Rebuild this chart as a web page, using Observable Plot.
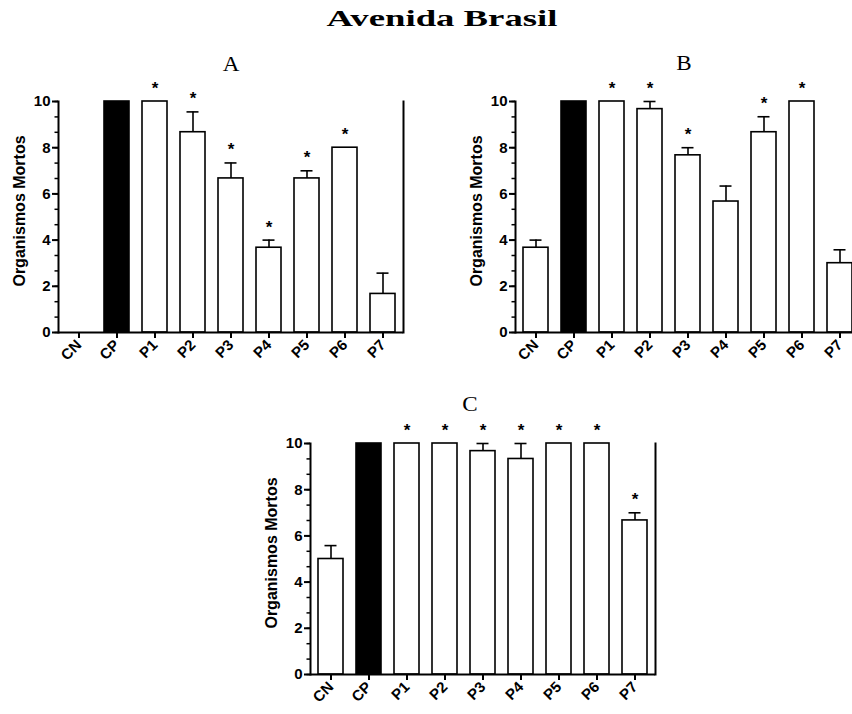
<!DOCTYPE html>
<html>
<head>
<meta charset="utf-8">
<script src="https://cdn.jsdelivr.net/npm/d3@7"></script>
<script src="https://cdn.jsdelivr.net/npm/@observablehq/plot@0.6"></script>
<style>
  html, body { margin: 0; padding: 0; background: #fff; overflow: hidden; }
  #root { position: relative; width: 852px; height: 714px; overflow: hidden; }
  .ttl { position: absolute; font-family: "Liberation Serif", "Times New Roman", serif; color: #000; line-height: 1; white-space: nowrap; }
  .panel { position: absolute; }
  .panel svg { max-width: none !important; }
</style>
</head>
<body>
<div id="root"></div>
<script>
// ---- data ----
const categories = ["CN", "CP", "P1", "P2", "P3", "P4", "P5", "P6", "P7"];
const positiveControl = "CP";

const meanA = [0, 10, 10, 8.67, 6.67, 3.67, 6.67, 8.0, 1.67];
const errA  = [0, 0, 0, 0.88, 0.67, 0.33, 0.33, 0, 0.9];
const starA = [false, false, true, true, true, true, true, true, false];

const meanB = [3.67, 10, 10, 9.67, 7.67, 5.67, 8.67, 10, 3.0];
const errB  = [0.33, 0, 0, 0.33, 0.33, 0.67, 0.67, 0, 0.58];
const starB = [false, false, true, true, true, false, true, true, false];

const meanC = [5.0, 10, 10, 10, 9.67, 9.33, 10, 10, 6.67];
const errC  = [0.58, 0, 0, 0, 0.33, 0.67, 0, 0, 0.33];
const starC = [false, false, true, true, true, true, true, true, true];

const mainTitle = "Avenida Brasil";
const panelTitles = ["A", "B", "C"];
const yLabel = "Organismos Mortos";
const yMajorTicks = [0, 2, 4, 6, 8, 10];
const yMinorTicks = d3.range(0, 10.01, 2 / 3);
const starSymbol = "*";

// ---- build ----
function rows(means, errs, stars) {
  return categories.map((c, i) => ({cat: c, mean: means[i], err: errs[i], hi: means[i] + errs[i], star: stars[i]}));
}

function panel(means, errs, stars) {
  const data = rows(means, errs, stars);
  const errData = data.filter(d => d.err > 0);
  const starData = data.filter(d => d.star);
  return Plot.plot({
    width: 415,
    height: 315,
    marginLeft: 58,
    marginRight: 12,
    marginTop: 30,
    marginBottom: 54,
    style: {fontFamily: "'Liberation Sans', Arial, sans-serif", fontWeight: "bold", color: "#000", background: "transparent"},
    x: {type: "band", domain: categories, paddingInner: 0.33, paddingOuter: 0.185, label: null},
    y: {domain: [0, 10], label: null},
    marks: [
      Plot.barY(data.filter(d => d.cat !== positiveControl), {x: "cat", y: "mean", fill: "white", stroke: "black", strokeWidth: 1.6}),
      Plot.barY(data.filter(d => d.cat === positiveControl), {x: "cat", y: "mean", fill: "black", stroke: "black", strokeWidth: 1.6}),
      Plot.ruleX(errData, {x: "cat", y1: "mean", y2: "hi", stroke: "black", strokeWidth: 1.6}),
      Plot.tickY(errData, {x: "cat", y: "hi", insetLeft: 6.5, insetRight: 6.5, stroke: "black", strokeWidth: 1.6}),
      Plot.text(starData, {x: "cat", y: "hi", text: () => starSymbol, dy: -13, fontSize: 17, fontWeight: "bold", fill: "black"}),
      Plot.ruleY([0], {stroke: "black", strokeWidth: 2}),
      Plot.frame({anchor: "left", stroke: "black", strokeWidth: 2}),
      Plot.frame({anchor: "right", stroke: "black", strokeWidth: 2}),
      Plot.axisY({ticks: yMinorTicks, tickSize: 3.5, text: null, label: null, strokeWidth: 1.5}),
      Plot.axisY({ticks: yMajorTicks, tickSize: 6, tickPadding: 2, fontSize: 15, label: null, strokeWidth: 2}),
      Plot.axisX({tickSize: 6, tickPadding: 4, tickRotate: -45, fontSize: 15, label: null, strokeWidth: 2}),
      Plot.text([yLabel], {frameAnchor: "left", text: d => d, rotate: -90, textAnchor: "middle", dx: -39, dy: -6, fontSize: 16, fontWeight: "bold", fill: "black"})
    ]
  });
}

const root = document.getElementById("root");

function addText(txt, cx, cy, size, weight, sx) {
  const el = document.createElement("div");
  el.className = "ttl";
  el.textContent = txt;
  el.style.left = cx + "px";
  el.style.top = cy + "px";
  el.style.fontSize = size + "px";
  el.style.fontWeight = weight;
  el.style.transform = `translate(-50%, -50%) scaleX(${sx})`;
  root.appendChild(el);
}

function addPanel(svg, left, top) {
  const w = document.createElement("div");
  w.className = "panel";
  w.style.left = left + "px";
  w.style.top = top + "px";
  w.style.width = "415px";
  w.appendChild(svg);
  root.appendChild(w);
}

addPanel(panel(meanA, errA, starA), 0, 71);
addPanel(panel(meanB, errB, starB), 457, 71);
addPanel(panel(meanC, errC, starC), 252, 413);

addText(mainTitle, 442, 18, 24, "bold", 1.53);
addText(panelTitles[0], 231, 64, 21, "normal", 1.1);
addText(panelTitles[1], 684, 63, 21, "normal", 1.1);
addText(panelTitles[2], 470, 404, 21, "normal", 1.1);
</script>
</body>
</html>
